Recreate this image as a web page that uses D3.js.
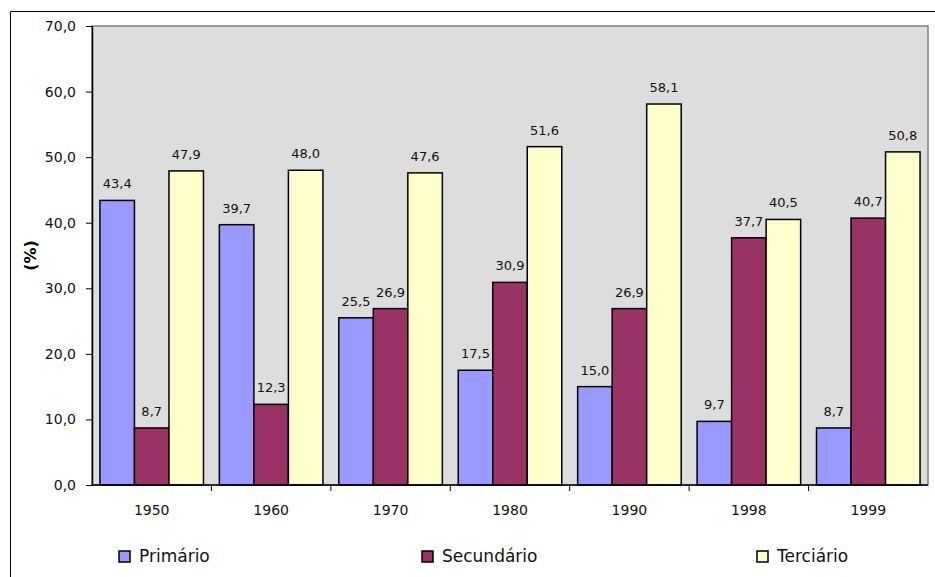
<!DOCTYPE html>
<html>
<head>
<meta charset="utf-8">
<script src="https://cdn.jsdelivr.net/npm/d3@7"></script>
<style>
  html, body { margin: 0; padding: 0; background: #fff; }
  svg { display: block; font-family: "DejaVu Sans", sans-serif; }
</style>
</head>
<body>
<svg id="chart" width="935" height="577"></svg>
<script>
// Participação por setor (%)
const years = ["1950", "1960", "1970", "1980", "1990", "1998", "1999"];
const primario   = [43.4, 39.7, 25.5, 17.5, 15.0, 9.7, 8.7];
const secundario = [8.7, 12.3, 26.9, 30.9, 26.9, 37.7, 40.7];
const terciario  = [47.9, 48.0, 47.6, 51.6, 58.1, 40.5, 50.8];
const seriesNames = ["Primário", "Secundário", "Terciário"];
const yTicks = [0, 10, 20, 30, 40, 50, 60, 70];

const seriesValues = [primario, secundario, terciario];
const colors = ["#9999ff", "#993366", "#ffffcc"];

const svg = d3.select("#chart");
const W = 935, H = 577;
const plot = { left: 92, right: 928, top: 26, bottom: 485 };

// outer frame
svg.append("path")
  .attr("d", `M10.5,${H} V11.5 H${W}`)
  .attr("fill", "none").attr("stroke", "#000").attr("stroke-width", 1);

const x0 = d3.scaleBand().domain(years).range([plot.left, plot.right]).paddingInner(0).paddingOuter(0);
const x1 = d3.scaleBand().domain(d3.range(3)).range([0, x0.bandwidth()]).paddingOuter(0.23).paddingInner(0);
const y = d3.scaleLinear().domain([0, 70]).range([plot.bottom, plot.top]);

// plot background
svg.append("rect")
  .attr("x", plot.left).attr("y", plot.top)
  .attr("width", plot.right - plot.left).attr("height", plot.bottom - plot.top)
  .attr("fill", "#dddddd").attr("stroke", "#808080").attr("stroke-width", 1.5);

const fmt = v => d3.format(".1f")(v).replace(".", ",");

// bars
const groups = svg.append("g").selectAll("g").data(years).join("g")
  .attr("transform", d => `translate(${x0(d)},0)`);

groups.each(function (yr, i) {
  const g = d3.select(this);
  seriesValues.forEach((vals, s) => {
    const v = vals[i];
    g.append("rect")
      .attr("x", x1(s)).attr("y", y(v))
      .attr("width", x1.bandwidth()).attr("height", y(0) - y(v))
      .attr("fill", colors[s]).attr("stroke", "#000").attr("stroke-width", 1.5);
    g.append("text")
      .attr("x", x1(s) + x1.bandwidth() / 2).attr("y", y(v) - 12)
      .attr("text-anchor", "middle").attr("font-size", 13).attr("fill", "#111")
      .text(fmt(v));
  });
});

// y axis
const yAxis = svg.append("g").attr("transform", `translate(${plot.left},0)`)
  .call(d3.axisLeft(y).tickValues(yTicks).tickSize(6).tickSizeOuter(0).tickFormat(fmt).tickPadding(10));
yAxis.select(".domain").attr("stroke", "#000").attr("stroke-width", 1.5);
yAxis.selectAll("text").attr("font-size", 14).attr("fill", "#111").attr("font-family", "DejaVu Sans");
yAxis.selectAll("line").attr("stroke", "#000");

// x axis with ticks at category boundaries
const xAxisG = svg.append("g").attr("transform", `translate(0,${plot.bottom})`);
xAxisG.append("line").attr("x1", plot.left).attr("x2", plot.right).attr("stroke", "#000").attr("stroke-width", 1.5);
xAxisG.selectAll("line.tick").data(years.slice(1)).join("line")
  .attr("class", "tick")
  .attr("x1", d => x0(d)).attr("x2", d => x0(d)).attr("y1", 0).attr("y2", 6)
  .attr("stroke", "#000");
xAxisG.selectAll("text").data(years).join("text")
  .attr("x", d => x0(d) + x0.bandwidth() / 2).attr("y", 30)
  .attr("text-anchor", "middle").attr("font-size", 14).attr("fill", "#111")
  .text(d => d);

// y axis title
svg.append("text")
  .attr("transform", `translate(36,${(plot.top + plot.bottom) / 2}) rotate(-90)`)
  .attr("text-anchor", "middle").attr("font-size", 16).attr("font-weight", "bold")
  .text("(%)");

// legend
const legendX = [119, 422, 757];
const legend = svg.append("g").selectAll("g").data(seriesNames).join("g")
  .attr("transform", (d, i) => `translate(${legendX[i]},551)`);
legend.append("rect").attr("width", 11).attr("height", 11)
  .attr("fill", (d, i) => colors[i]).attr("stroke", "#000").attr("stroke-width", 1.5);
legend.append("text").attr("x", 20).attr("y", 11)
  .attr("font-size", 17).attr("fill", "#111").text(d => d);
</script>
</body>
</html>
